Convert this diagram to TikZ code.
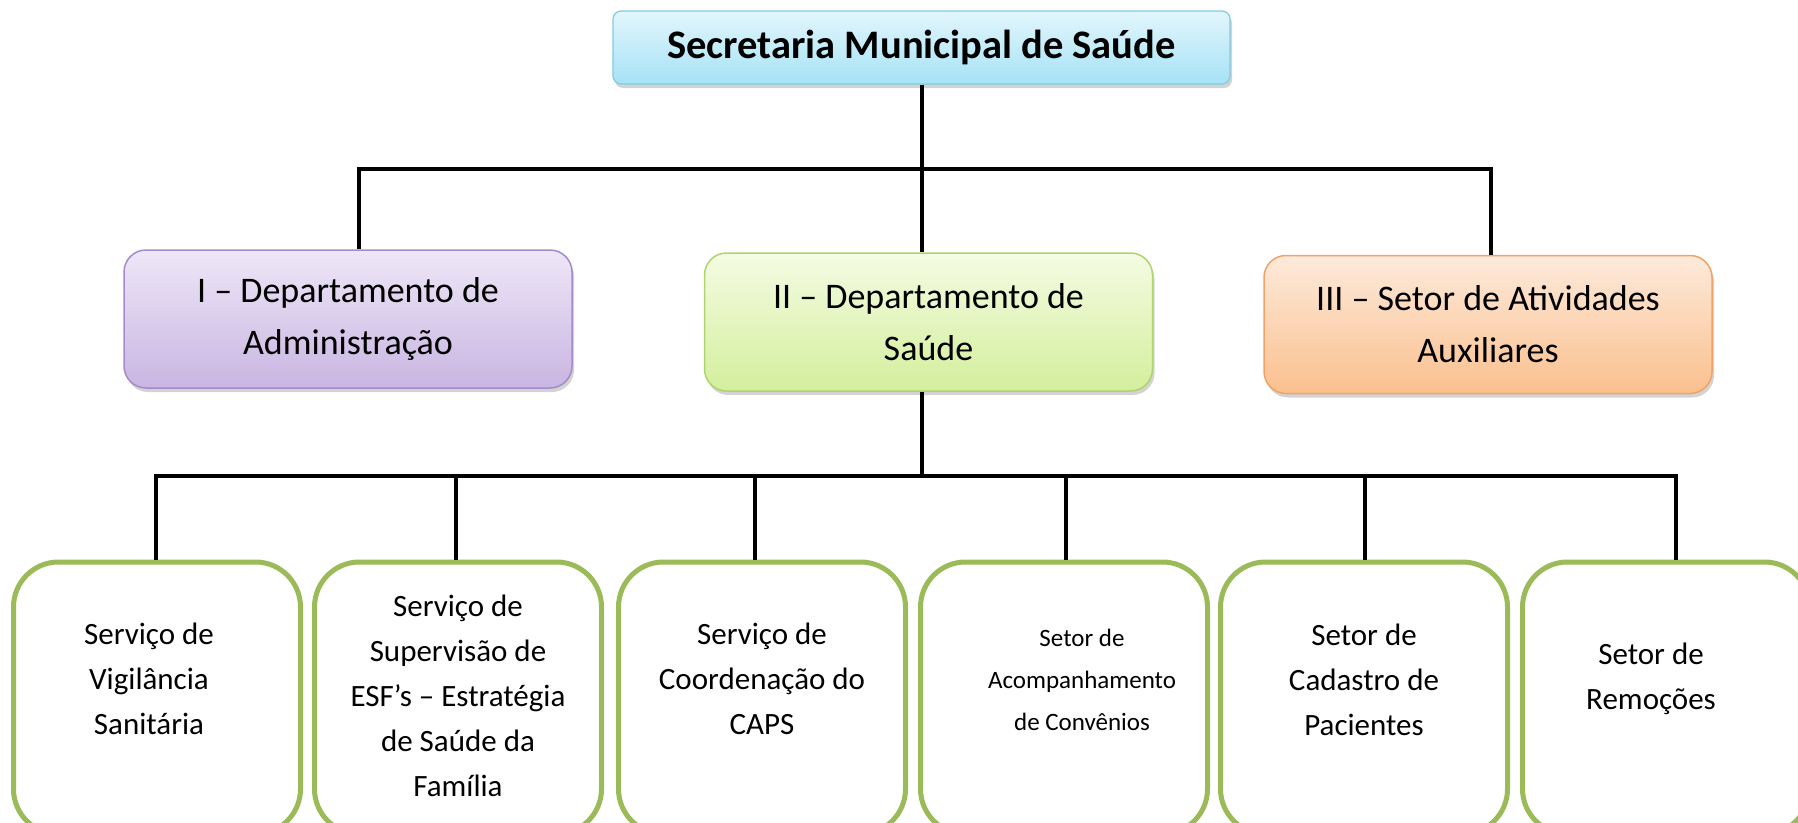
\documentclass[tikz,border=0pt]{standalone}
\usepackage{fontspec}
\setmainfont{Carlito}
\usetikzlibrary{shadows,calc}

\definecolor{sectop}{HTML}{E2F6FC}
\definecolor{secbot}{HTML}{A6E2F6}
\definecolor{secline}{HTML}{7FCBE3}
\definecolor{admtop}{HTML}{EEE7F7}
\definecolor{admbot}{HTML}{C9B5E2}
\definecolor{admline}{HTML}{A48BC9}
\definecolor{sautop}{HTML}{F5FBE3}
\definecolor{saubot}{HTML}{D3EF9C}
\definecolor{sauline}{HTML}{AFD46F}
\definecolor{atitop}{HTML}{FDEADB}
\definecolor{atibot}{HTML}{FAC08E}
\definecolor{atiline}{HTML}{EFA366}
\definecolor{subgreen}{HTML}{9BBB59}

\begin{document}
\begin{tikzpicture}[x=1pt,y=-1pt,
  conn/.style={line width=4pt,black},
  boxshadow/.style={drop shadow={shadow xshift=2pt,shadow yshift=-4pt,opacity=0.35}},
  topbox/.style={draw=secline,line width=1.2pt,rounded corners=8pt,
    top color=sectop,bottom color=secbot,boxshadow,
    minimum width=617pt,minimum height=73pt,
    font=\bfseries\fontsize{40.5}{46}\selectfont},
  dept/.style={line width=1.5pt,rounded corners=22pt,boxshadow,
    minimum width=448pt,minimum height=138pt,align=center,
    font=\fontsize{36}{52}\selectfont},
  subbox/.style={draw=subgreen,line width=5pt,rounded corners=45pt,fill=white,
    minimum width=287pt,minimum height=272pt},
  subtext/.style={align=center}]
\useasboundingbox (0,0) rectangle (1798,822);
\clip (0,0) rectangle (1798,822);

%top box
\node[topbox] (sec) at (921.5,47.5) {Secretaria Municipal de Saúde};

%departments
\node[dept,draw=admline,top color=admtop,bottom color=admbot] (adm) at (348,319)
  {I – Departamento de\\Administração};
\node[dept,draw=sauline,top color=sautop,bottom color=saubot] (sau) at (928.5,322)
  {II – Departamento de\\Saúde};
\node[dept,draw=atiline,top color=atitop,bottom color=atibot] (ati) at (1488,324.5)
  {III – Setor de Atividades\\Auxiliares};

%lines to the departments
\coordinate (bl) at (359,169);
\coordinate (br) at (1491,169);
\draw[conn] (sec.south) -- (sec.south |- sau.north);
\draw[conn] (bl |- adm.north) -- (bl) -- (br) -- (br |- ati.north);

%services and sectors
\foreach \n/\x/\d/\tx/\ty/\fs/\lh/\txt in {
  1/157/156/149/679/31/45/{Serviço de\\Vigilância\\Sanitária},
  2/458/456/458/696/31/45/{Serviço de\\Supervisão de\\ESF’s – Estratégia\\de Saúde da\\Família},
  3/762/755/762/679/31/45/{Serviço de\\Coordenação do\\CAPS},
  4/1064/1066/1082/680/25/42/{Setor de\\Acompanhamento\\de Convênios},
  5/1364/1365/1364/680/31/45/{Setor de\\Cadastro de\\Pacientes},
  6/1666/1676/1651/679/31/45/{Setor de\\Remoções}}
{
  \node[subbox] (s\n) at (\x,698) {};
  \node[subtext,font=\fontsize{\fs}{\lh}\selectfont] (t\n) at (\tx,\ty) {\txt};
  \coordinate (d\n) at (\d,476);
}

%lines to the services
\coordinate (trunk) at (922,476);
\draw[conn] (trunk |- sau.south) -- (trunk);
\draw[conn] (d1 |- s1.north) -- (d1) -- (d6) -- (d6 |- s6.north);
\foreach \n in {2,...,5}
  \draw[conn] (d\n) -- (d\n |- s\n.north);

\end{tikzpicture}
\end{document}
